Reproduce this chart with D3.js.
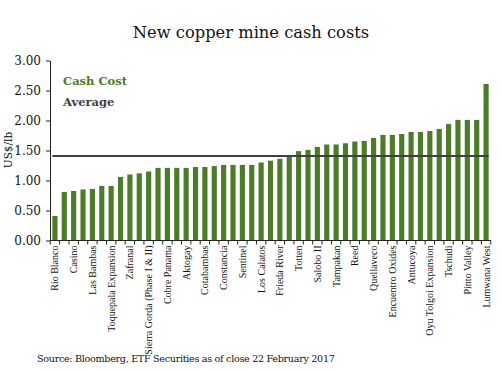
<!DOCTYPE html>
<html><head><meta charset="utf-8">
<script src="https://cdn.jsdelivr.net/npm/d3@7"></script>
<style>body{margin:0;background:#fff}svg{display:block}</style>
</head><body><svg id="c" width="502" height="370"></svg>
<script>
const categories = ["Rio Blanco","","Casino","","Las Bambas","","Toquepala Expansion","","Zafranal","",
"Sierra Gorda (Phase I & II)","","Cobre Panama","","Aktogay","","Cotabambas","","Constancia","",
"Sentinel","","Los Calatos","","Frieda River","","Totten","","Salobo II","",
"Tampakan","","Reed","","Quellaveco","","Encuentro Oxides","","Antucoya","",
"Oyu Tolgoi Expansion","","Tschudi","","Pinto Valley","","Lumwana West"];
const cashCost = [0.41,0.81,0.825,0.85,0.86,0.91,0.91,1.06,1.10,1.12,
1.15,1.21,1.21,1.21,1.21,1.225,1.225,1.24,1.26,1.26,
1.26,1.26,1.30,1.33,1.36,1.41,1.49,1.51,1.56,1.60,
1.60,1.62,1.65,1.66,1.71,1.76,1.76,1.775,1.81,1.81,
1.825,1.86,1.94,2.01,2.01,2.01,2.61];
const average = 1.41;
const yTicks = [0,0.5,1,1.5,2,2.5,3];

const svg = d3.select("#c");
const green = "#4a7c2a", grey = "#404040";
const idx = d3.range(cashCost.length);
const x = d3.scaleBand().domain(idx).range([50,491]).paddingInner(0.45).paddingOuter(0.25);
const y = d3.scaleLinear().domain([0,3]).range([240.5,60.5]);

svg.append("text").attr("x",251).attr("y",38).attr("text-anchor","middle")
  .attr("font-family","DejaVu Serif").attr("font-size",16.3).attr("fill","#111").text("New copper mine cash costs");

// bars
svg.append("g").selectAll("rect").data(idx).join("rect")
  .attr("x",i=>x(i)).attr("width",x.bandwidth())
  .attr("y",i=>y(cashCost[i])).attr("height",i=>y(0)-y(cashCost[i]))
  .attr("fill",green);

// y axis
const ya = svg.append("g").attr("transform","translate(50,0)")
  .call(d3.axisLeft(y).tickValues(yTicks).tickFormat(d3.format(".2f")).tickSize(4).tickSizeOuter(0));
ya.select(".domain").attr("stroke","#222");
ya.selectAll(".tick line").attr("stroke","#222");
ya.selectAll("text").attr("font-family","DejaVu Serif").attr("font-size",12).attr("fill","#111").attr("dx","-2");

// x axis
const xa = svg.append("g").attr("transform",`translate(0,${y(0)})`);
xa.append("line").attr("x1",50).attr("x2",491).attr("y1",0).attr("y2",0).attr("stroke","#222");
const t0 = x(0) - x.step()*x.paddingInner()/2;
xa.selectAll("line.tk").data(d3.range(cashCost.length+1)).join("line").attr("class","tk")
  .attr("x1",i=>t0 + i*x.step()).attr("x2",i=>t0 + i*x.step())
  .attr("y1",0).attr("y2",4).attr("stroke","#222");
xa.selectAll("text").data(idx.filter(i=>categories[i]!=="")).join("text")
  .attr("transform",i=>`translate(${x(i)+x.bandwidth()/2+3.5},5) rotate(-90)`)
  .attr("text-anchor","end").attr("font-family","Liberation Serif").attr("font-size",10).attr("fill","#111")
  .text(i=>categories[i]);

// average line
svg.append("line").attr("x1",x(0)).attr("x2",x(cashCost.length-1)+x.bandwidth())
  .attr("y1",y(average)).attr("y2",y(average)).attr("stroke",grey).attr("stroke-width",2);

// legend
svg.append("text").attr("x",63).attr("y",85).attr("font-family","DejaVu Serif").attr("font-weight","bold")
  .attr("font-size",11.5).attr("fill",green).text("Cash Cost");
svg.append("text").attr("x",63).attr("y",106).attr("font-family","DejaVu Serif").attr("font-weight","bold")
  .attr("font-size",11.5).attr("fill",grey).text("Average");

// y label
svg.append("text").attr("transform","translate(12,150) rotate(-90)").attr("text-anchor","middle")
  .attr("font-family","DejaVu Serif").attr("font-size",10.5).attr("fill","#111").text("US$/lb");

// source
svg.append("text").attr("x",37).attr("y",362).attr("font-family","DejaVu Serif").attr("font-size",9.6)
  .attr("fill","#111").attr("letter-spacing","-0.3").text("Source: Bloomberg, ETF Securities as of close 22 February 2017");
</script></body></html>
